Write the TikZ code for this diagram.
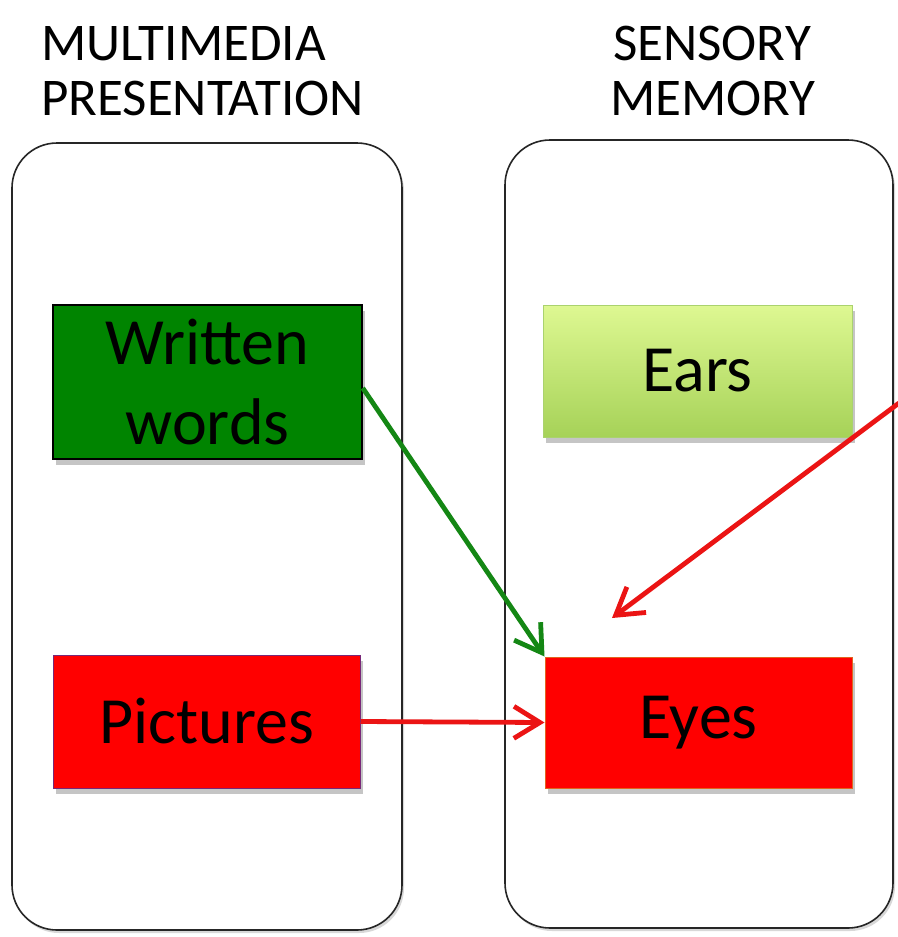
\documentclass[tikz,border=0pt]{standalone}
\usepackage{fontspec}
\setmainfont{Carlito}
\usetikzlibrary{arrows.meta,shadows}
\definecolor{wgreen}{RGB}{0,132,0}
\definecolor{eartop}{RGB}{222,248,146}
\definecolor{earbot}{RGB}{166,210,88}
\definecolor{earline}{RGB}{170,210,110}
\definecolor{picline}{RGB}{120,40,120}
\definecolor{eyeline}{RGB}{225,100,30}
\definecolor{arrred}{RGB}{235,20,20}
\definecolor{arrgreen}{RGB}{20,135,20}
\begin{document}
\begin{tikzpicture}[x=1pt,y=-1pt,
  panel/.style={draw=black!85, line width=1.6pt, rounded corners=45pt, fill=white, inner sep=0pt,
    drop shadow={shadow xshift=2pt,shadow yshift=-3pt,fill=black!25,opacity=0.6}},
  title/.style={anchor=base west, inner sep=0pt, font=\fontsize{53}{58}\selectfont},
  box/.style={inner sep=0pt, align=center, font=\fontsize{66}{80}\selectfont,
    drop shadow={shadow xshift=3pt,shadow yshift=-6pt,fill=black!45,opacity=0.5}},
  conn/.style={line width=4.8pt, -{Straight Barb[length=26pt,width=32pt,line width=4.8pt]}}
]
\useasboundingbox[fill=white] (0,0) rectangle (897,937);

% titles
\node[title] (t1) at (41,60) {MULTIMEDIA};
\node[title] (t2) at (41,115) {PRESENTATION};
\node[title, anchor=base] (t3) at (712,60) {SENSORY};
\node[title, anchor=base] (t4) at (713,115) {MEMORY};

% panels
\node[panel, minimum width=390pt, minimum height=787pt] (left) at (207,536.5) {};
\node[panel, minimum width=388pt, minimum height=788pt] (right) at (699,534) {};

% boxes
\node[box, fill=wgreen, draw=black, line width=1.5pt, minimum width=309pt, minimum height=154pt] (written) at (207.5,382) {Written\\words};
\node[box, top color=eartop, bottom color=earbot, draw=earline, line width=0.8pt, minimum width=309pt, minimum height=132pt] (ears) at (697.5,371) {Ears};
\node[box, fill=red, draw=picline, line width=1pt, minimum width=307pt, minimum height=133pt] (pictures) at (206.5,721.5) {Pictures};
\node[box, fill=red, draw=eyeline, line width=1pt, minimum width=307pt, minimum height=131pt] (eyes) at (698.5,722.5) {Eyes};

% connectors
\coordinate (free) at (899,403);
\coordinate (tipred) at (612,618);
\draw[conn, arrgreen] ([yshift=-6pt]written.east) -- (eyes.north west);
\draw[conn, arrred] (pictures.east) -- (eyes.west);
\draw[conn, arrred] (free) -- (tipred);
\end{tikzpicture}
\end{document}
